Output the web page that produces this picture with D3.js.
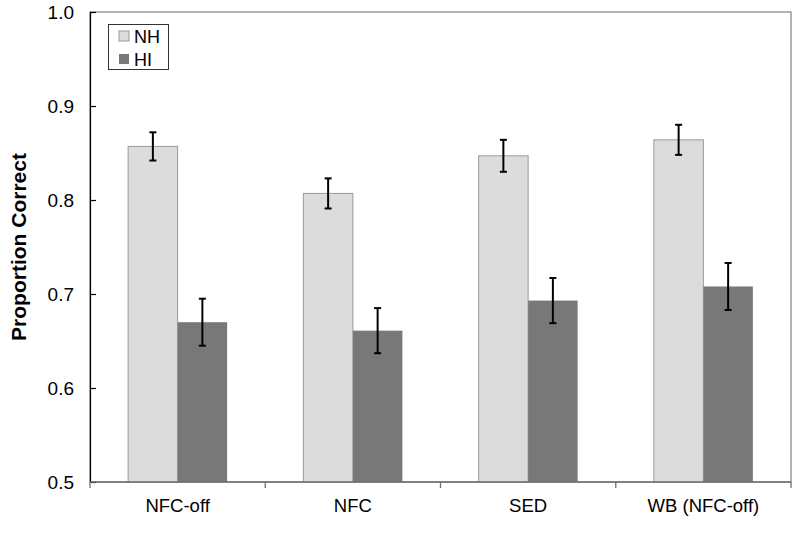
<!DOCTYPE html>
<html>
<head>
<meta charset="utf-8">
<script src="https://cdn.jsdelivr.net/npm/d3@7"></script>
<style>
  html, body { margin: 0; padding: 0; background: #fff; }
  svg { display: block; font-family: Arial, "Liberation Sans", Helvetica, sans-serif; }
</style>
</head>
<body>
<svg id="chart" width="800" height="536"></svg>
<script>
const categories = ["NFC-off", "NFC", "SED", "WB (NFC-off)"];
const seriesNames = ["NH", "HI"];
const nhValues = [0.857, 0.807, 0.847, 0.864];
const nhErrors = [0.015, 0.016, 0.017, 0.016];
const hiValues = [0.670, 0.661, 0.693, 0.708];
const hiErrors = [0.025, 0.024, 0.024, 0.025];
const yTicks = [0.5, 0.6, 0.7, 0.8, 0.9, 1.0];
const colors = { NH: "#dcdcdc", HI: "#787878" };

const svg = d3.select("#chart");
const margin = { left: 90, right: 9, top: 12, bottom: 54 };
const W = 800, H = 536;
const x0 = d3.scaleBand().domain(categories).range([margin.left, W - margin.right]).padding(0);
const x1 = d3.scaleBand().domain(seriesNames).range([0, x0.bandwidth()]).paddingInner(0).paddingOuter(0.77);
const y = d3.scaleLinear().domain([0.5, 1.0]).range([H - margin.bottom, margin.top]);

const data = categories.map((c, i) => ({
  cat: c,
  vals: [
    { s: "NH", v: nhValues[i], e: nhErrors[i] },
    { s: "HI", v: hiValues[i], e: hiErrors[i] }
  ]
}));

// frame
svg.append("rect")
  .attr("x", margin.left).attr("y", margin.top)
  .attr("width", W - margin.right - margin.left)
  .attr("height", y(0.5) - margin.top)
  .attr("fill", "none").attr("stroke", "#808080").attr("stroke-width", 1.2);

// bars
const g = svg.append("g").selectAll("g").data(data).join("g")
  .attr("transform", d => `translate(${x0(d.cat)},0)`);
g.selectAll("rect").data(d => d.vals).join("rect")
  .attr("x", d => x1(d.s))
  .attr("y", d => y(d.v))
  .attr("width", x1.bandwidth())
  .attr("height", d => y(0.5) - y(d.v))
  .attr("fill", d => colors[d.s])
  .attr("stroke", d => d.s === "NH" ? "#9a9a9a" : "none")
  .attr("stroke-width", 1);

// error bars
const eb = g.selectAll("g.eb").data(d => d.vals).join("g").attr("class", "eb");
eb.append("line")
  .attr("x1", d => x1(d.s) + x1.bandwidth() / 2)
  .attr("x2", d => x1(d.s) + x1.bandwidth() / 2)
  .attr("y1", d => y(d.v + d.e)).attr("y2", d => y(d.v - d.e))
  .attr("stroke", "#000").attr("stroke-width", 2);
[1, -1].forEach(sign => {
  eb.append("line")
    .attr("x1", d => x1(d.s) + x1.bandwidth() / 2 - 3.5)
    .attr("x2", d => x1(d.s) + x1.bandwidth() / 2 + 3.5)
    .attr("y1", d => y(d.v + sign * d.e)).attr("y2", d => y(d.v + sign * d.e))
    .attr("stroke", "#000").attr("stroke-width", 2);
});

// y axis
const yAxis = svg.append("g").attr("transform", `translate(${margin.left},0)`)
  .call(d3.axisLeft(y).tickValues(yTicks).tickFormat(d3.format(".1f")).tickSizeInner(-6).tickSizeOuter(0).tickPadding(16));
yAxis.select(".domain").attr("stroke", "#000").attr("stroke-width", 1.2);
yAxis.selectAll(".tick line").attr("stroke", "#000").attr("stroke-width", 1.2);
yAxis.selectAll(".tick text").attr("font-size", 19).attr("fill", "#000")
  .attr("font-family", "Arial, 'Liberation Sans', sans-serif");

// x axis baseline with boundary ticks
const xb = svg.append("g");
xb.append("line").attr("x1", margin.left).attr("x2", W - margin.right)
  .attr("y1", y(0.5)).attr("y2", y(0.5)).attr("stroke", "#707070").attr("stroke-width", 1.3);
const bounds = categories.map(c => x0(c)).concat([x0(categories[categories.length - 1]) + x0.bandwidth()]);
xb.selectAll("line.bt").data(bounds).join("line").attr("class", "bt")
  .attr("x1", d => d).attr("x2", d => d)
  .attr("y1", y(0.5)).attr("y2", y(0.5) + 6)
  .attr("stroke", "#707070").attr("stroke-width", 1.3);
xb.selectAll("text").data(categories).join("text")
  .attr("x", d => x0(d) + x0.bandwidth() / 2)
  .attr("y", y(0.5) + 30)
  .attr("text-anchor", "middle").attr("font-size", 18.5).attr("fill", "#000")
  .text(d => d);

// y label
svg.append("text")
  .attr("transform", `translate(25.5,${(y(0.5) + y(1.0)) / 2}) rotate(-90)`)
  .attr("text-anchor", "middle").attr("font-size", 21).attr("font-weight", "bold")
  .text("Proportion Correct");

// legend
const lg = svg.append("g");
lg.append("rect").attr("x", 108.5).attr("y", 24.5).attr("width", 60).attr("height", 45)
  .attr("fill", "#fff").attr("stroke", "#333").attr("stroke-width", 1);
seriesNames.forEach((s, i) => {
  lg.append("rect").attr("x", 119).attr("y", 31 + i * 23).attr("width", 10).attr("height", 10)
    .attr("fill", colors[s]).attr("stroke", s === "NH" ? "#9a9a9a" : "none");
  lg.append("text").attr("x", 134).attr("y", 42.5 + i * 23)
    .attr("font-size", 18).attr("fill", "#000").text(s);
});
</script>
</body>
</html>
